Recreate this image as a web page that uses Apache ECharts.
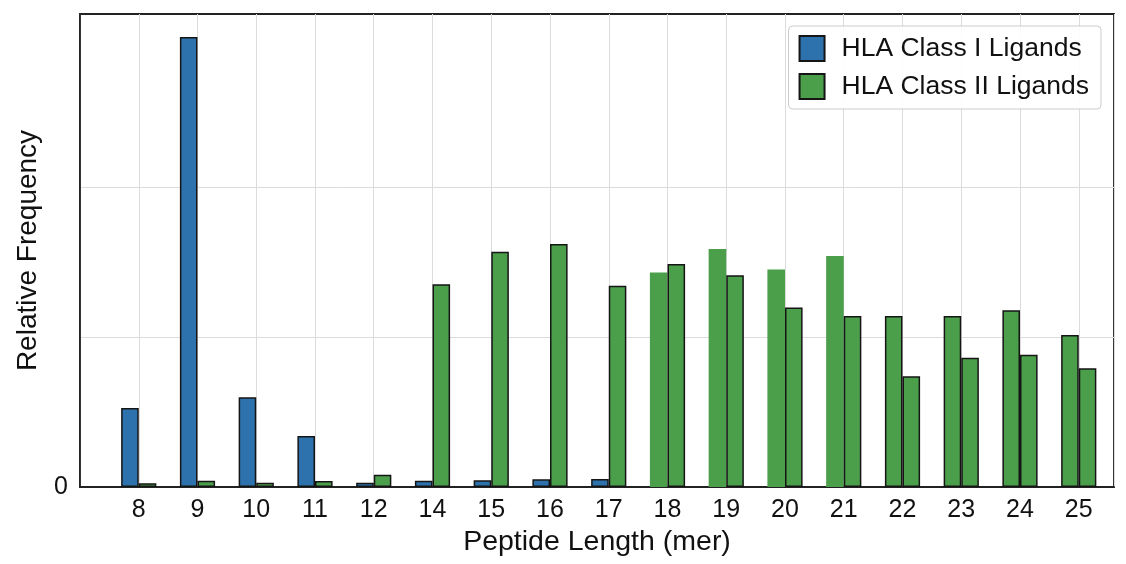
<!DOCTYPE html>
<html><head><meta charset="utf-8">
<script src="https://cdn.jsdelivr.net/npm/echarts@6/dist/echarts.min.js"></script>
<style>html,body{margin:0;padding:0;background:#fff}#c{width:1126px;height:564px}</style>
</head><body><div id="c"></div>
<script>
const categories = ['8','9','10','11','12','14','15','16','17','18','19','20','21','22','23','24','25'];
const classI = [0.0527, 0.300, 0.0598, 0.034, 0.0029, 0.0042, 0.0045, 0.0051, 0.0053, 0.143, 0.1587, 0.145, 0.154, 0.114, 0.114, 0.1178, 0.1013];
const classII = [0.0025, 0.0042, 0.0029, 0.004, 0.0082, 0.1351, 0.1569, 0.162, 0.1342, 0.1487, 0.1411, 0.1196, 0.114, 0.0738, 0.0862, 0.0882, 0.0791];

const BLUE = '#2d72ad', GREEN = '#4b9f4b', EDGE = '#151515';
const FONT = "'Liberation Sans', Arial, sans-serif";

const classIData = classI.map((v, i) => {
  const len = +categories[i];
  let style;
  if (len >= 18 && len <= 21) style = {color: GREEN, borderWidth: 0};
  else if (len >= 22) style = {color: GREEN, borderColor: EDGE, borderWidth: 1.5};
  else style = {color: BLUE, borderColor: EDGE, borderWidth: 1.5};
  return {value: [i, v], itemStyle: style};
});
const classIIData = classII.map((v, i) => [i, v]);

const chart = echarts.init(document.getElementById('c'));
chart.setOption({
  animation: false,
  textStyle: {fontFamily: FONT},
  grid: {left: 80, right: 12, top: 14, bottom: 77, show: true, borderColor: '#222', borderWidth: 1.8, backgroundColor: 'transparent'},
  legend: {
    orient: 'vertical', right: 25, top: 26,
    itemWidth: 25, itemHeight: 25, itemGap: 11,
    padding: [9, 12, 9, 10],
    borderColor: '#cccccc', borderWidth: 1, borderRadius: 4,
    backgroundColor: 'rgba(255,255,255,0.9)',
    textStyle: {fontSize: 26.5, color: '#111', fontFamily: FONT, padding: [0, 0, 0, 12]},
    icon: 'rect',
    data: ['HLA Class I Ligands', 'HLA Class II Ligands']
  },
  xAxis: {
    type: 'value', min: -1, max: 16.6, interval: 1,
    name: 'Peptide Length (mer)', nameLocation: 'middle', nameGap: 39,
    nameTextStyle: {fontSize: 28.5, color: '#111', fontFamily: FONT},
    axisLine: {show: true, onZero: false, lineStyle: {color: '#222', width: 1.8}},
    axisTick: {show: false},
    axisLabel: {fontSize: 25, color: '#111', margin: 11, fontFamily: FONT,
      formatter: v => (v >= 0 && v < categories.length && Number.isInteger(v)) ? categories[v] : '',
      showMaxLabel: false},
    splitLine: {show: true, lineStyle: {color: '#dcdcdc', width: 1}}
  },
  yAxis: {
    type: 'value', min: 0, max: 0.3153, interval: 0.1,
    name: 'Relative Frequency', nameLocation: 'middle', nameGap: 38,
    nameTextStyle: {fontSize: 28, color: '#111', fontFamily: FONT},
    axisLine: {show: true, onZero: false, lineStyle: {color: '#222', width: 1.8}},
    axisTick: {show: false},
    axisLabel: {fontSize: 25, color: '#111', margin: 12, fontFamily: FONT,
      formatter: v => v === 0 ? '0' : '', showMaxLabel: false},
    splitLine: {show: true, lineStyle: {color: ['transparent', '#dcdcdc', '#dcdcdc', 'transparent'], width: 1}}
  },
  series: [
    {name: 'HLA Class I Ligands', type: 'bar', barWidth: 17.6, barGap: '0%',
      itemStyle: {color: BLUE, borderColor: EDGE, borderWidth: 1.5}, data: classIData},
    {name: 'HLA Class II Ligands', type: 'bar', barWidth: 17.6, barGap: '0%',
      itemStyle: {color: GREEN, borderColor: EDGE, borderWidth: 1.5}, data: classIIData}
  ]
});
</script></body></html>
